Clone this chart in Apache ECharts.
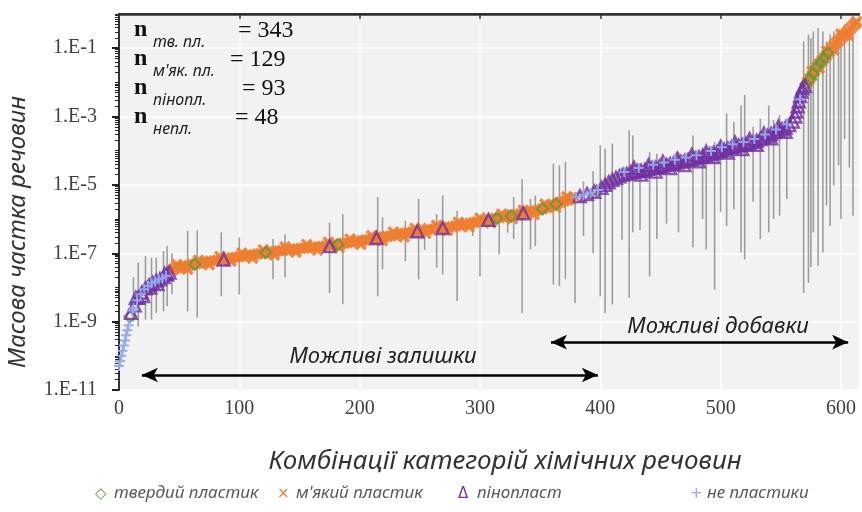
<!DOCTYPE html>
<html>
<head>
<meta charset="utf-8">
<script src="https://cdn.jsdelivr.net/npm/echarts@6/dist/echarts.min.js"></script>
<style>
html,body{margin:0;padding:0;background:#fff;}
#chart{width:862px;height:512px;}
</style>
</head>
<body>
<div id="chart"></div>
<script>
// ---------- DATA (x = combination index, value = mass fraction) ----------
const xTicks = [0, 100, 200, 300, 400, 500, 600];
const yTickExps = [-11, -9, -7, -5, -3, -1];

const hardPlastic = [
  [9,1.4e-9],[63,4.8e-8],[122,1.05e-7],[182,1.8e-7],[314,1.05e-6],[326,1.23e-6],
  [352,2.0e-6],[363,2.75e-6],[397,6.8e-6],
  [571,8.9e-3],[574,1.26e-2],[577,1.8e-2],[580,2.8e-2],[583,3.8e-2],[586,5.1e-2],[589,7.1e-2]
];

const softPlastic = [
  [44,3.2e-8],[46,3.5e-8],[49,3.8e-8],[52,4.0e-8],[55,4.2e-8],[58,4.4e-8],[61,4.7e-8],[64,4.9e-8],
  [67,5.1e-8],[70,5.4e-8],[73,5.6e-8],[76,5.9e-8],[79,6.0e-8],[82,6.3e-8],[85,6.5e-8],[88,6.8e-8],
  [91,7.1e-8],[94,7.4e-8],[97,7.6e-8],[100,7.9e-8],[103,8.3e-8],[106,8.5e-8],[109,8.9e-8],[112,9.1e-8],
  [115,9.5e-8],[118,9.8e-8],[121,1.02e-7],[124,1.05e-7],[127,1.1e-7],[130,1.12e-7],[133,1.17e-7],
  [136,1.2e-7],[139,1.26e-7],[142,1.29e-7],[145,1.32e-7],[148,1.35e-7],[151,1.38e-7],[154,1.41e-7],
  [157,1.45e-7],[160,1.48e-7],[163,1.51e-7],[166,1.55e-7],[169,1.58e-7],[172,1.62e-7],[175,1.66e-7],
  [178,1.74e-7],[181,1.82e-7],[184,1.86e-7],[187,1.95e-7],[190,2.04e-7],[193,2.1e-7],[196,2.2e-7],
  [199,2.24e-7],[202,2.34e-7],[205,2.45e-7],[208,2.5e-7],[211,2.6e-7],[214,2.75e-7],[217,2.9e-7],
  [220,3.0e-7],[223,3.1e-7],[226,3.2e-7],[229,3.4e-7],[232,3.5e-7],[235,3.7e-7],[238,3.9e-7],
  [241,4.0e-7],[244,4.2e-7],[247,4.4e-7],[250,4.5e-7],[253,4.7e-7],[256,4.9e-7],[259,5.0e-7],
  [262,5.1e-7],[265,5.4e-7],[268,5.5e-7],[271,5.6e-7],[274,5.8e-7],[277,6.0e-7],[280,6.3e-7],
  [283,6.6e-7],[286,6.9e-7],[289,7.2e-7],[292,7.6e-7],[295,7.9e-7],[298,8.3e-7],[301,8.7e-7],
  [304,9.1e-7],[307,9.5e-7],[310,1.0e-6],[313,1.05e-6],[316,1.1e-6],[319,1.15e-6],[322,1.2e-6],
  [325,1.26e-6],[328,1.32e-6],[331,1.38e-6],[334,1.41e-6],[337,1.48e-6],[340,1.6e-6],[343,1.66e-6],
  [346,1.74e-6],[349,1.86e-6],[352,2.0e-6],[355,2.2e-6],[358,2.45e-6],[361,2.6e-6],[364,2.8e-6],
  [367,3.1e-6],[370,3.4e-6],[373,3.6e-6],[376,3.9e-6],[379,4.3e-6],
  [48,4.7e-8],[57,3.4e-8],[66,6.3e-8],[75,4.6e-8],[84,8.1e-8],[93,5.8e-8],[102,1.02e-7],[111,7.2e-8],
  [120,1.26e-7],[129,8.9e-8],[138,1.55e-7],[147,1.07e-7],[156,1.82e-7],[165,1.23e-7],[174,2.1e-7],
  [183,1.48e-7],[192,2.6e-7],[201,1.82e-7],[210,3.3e-7],[219,2.34e-7],[228,4.2e-7],[237,3.0e-7],
  [246,5.4e-7],[255,3.8e-7],[264,6.6e-7],[273,4.6e-7],[282,8.1e-7],[291,5.9e-7],[300,1.07e-6],
  [309,7.8e-7],[318,1.41e-6],[327,1.02e-6],[336,1.82e-6],[345,1.35e-6],[354,2.75e-6],[363,2.2e-6],
  [372,4.5e-6],
  [572,1.0e-2],[574,1.26e-2],[576,1.58e-2],[578,2.1e-2],[580,2.8e-2],[582,3.5e-2],[584,4.2e-2],
  [586,5.1e-2],[588,6.3e-2],[590,7.9e-2],[592,0.1],[594,0.117],[596,0.141],[598,0.166],[600,0.2],
  [602,0.23],[604,0.27],[606,0.32],[608,0.38],[610,0.45],[612,0.52],[613,0.6],
  [576,2.1e-2],[582,2.6e-2],[588,8.3e-2],[594,8.9e-2],[600,0.26],[606,0.24]
];

const foam = [
  [10,1.8e-9],[13,3.0e-9],[16,5.0e-9],[19,7.1e-9],[22,9.5e-9],[25,1.17e-8],[28,1.38e-8],[31,1.58e-8],
  [34,1.74e-8],[37,2.0e-8],[40,2.4e-8],[42,2.75e-8],
  [14,5.0e-9],[20,5.6e-9],[26,1.0e-8],[32,1.26e-8],[38,2.5e-8],
  [87,6.6e-8],[175,1.62e-7],[214,2.8e-7],[248,4.4e-7],[269,5.5e-7],[307,9.5e-7],[336,1.48e-6],
  [383,4.7e-6],[389,5.4e-6],[395,6.3e-6],[401,8.3e-6],[404,1.0e-5],[407,1.2e-5],[410,1.4e-5],
  [413,1.6e-5],[416,1.8e-5],[419,2.0e-5],[422,2.1e-5],[425,2.3e-5],[428,2.4e-5],[431,2.5e-5],
  [434,2.6e-5],[437,2.75e-5],[440,2.9e-5],[443,3.1e-5],[446,3.2e-5],[449,3.4e-5],[452,3.6e-5],
  [455,3.8e-5],[458,4.1e-5],[461,4.3e-5],[464,4.5e-5],[467,4.8e-5],[470,5.0e-5],[473,5.4e-5],
  [476,5.8e-5],[479,6.0e-5],[482,6.5e-5],[485,6.8e-5],[488,7.2e-5],[491,7.8e-5],[494,8.5e-5],
  [497,9.1e-5],[500,1.0e-4],[503,1.07e-4],[506,1.17e-4],[509,1.26e-4],[512,1.32e-4],[515,1.41e-4],
  [518,1.48e-4],[521,1.58e-4],[524,1.66e-4],[527,1.78e-4],[530,1.95e-4],[533,2.2e-4],[536,2.45e-4],
  [539,2.75e-4],[542,3.1e-4],[545,3.5e-4],[548,3.9e-4],[551,4.3e-4],[554,4.8e-4],[557,5.6e-4],
  [560,7.1e-4],[562,1.0e-3],[563,1.4e-3],[564,2.0e-3],[565,2.8e-3],[566,4.0e-3],[567,5.4e-3],
  [568,6.8e-3],[570,7.9e-3],
  [428,3.2e-5],[434,2.0e-5],[440,3.8e-5],[446,2.45e-5],[452,4.8e-5],[458,3.1e-5],[464,5.9e-5],
  [470,3.8e-5],[476,7.6e-5],[482,4.9e-5],[488,9.5e-5],[494,6.5e-5],[500,1.32e-4],[506,8.9e-5],
  [512,1.74e-4],[518,1.12e-4],[524,2.2e-4],[530,1.48e-4],[536,3.2e-4],[542,2.3e-4],[548,5.1e-4],
  [554,3.6e-4]
];

const nonPlastic = [
  [0,5.0e-11],[1,7.1e-11],[2,1.0e-10],[3,1.4e-10],[4,2.0e-10],[5,2.8e-10],[6,4.0e-10],[7,5.6e-10],
  [8,7.9e-10],[11,2.1e-9],[12,2.5e-9],[15,4.2e-9],[18,6.3e-9],[21,8.9e-9],[24,1.1e-8],[27,1.32e-8],
  [30,1.5e-8],[33,1.7e-8],[36,1.86e-8],[39,2.2e-8],
  [380,4.4e-6],[386,5.0e-6],[392,5.9e-6],[398,7.1e-6],[420,2.4e-5],[432,3.1e-5],[444,3.9e-5],
  [453,4.5e-5],[462,5.4e-5],[471,6.3e-5],[480,7.4e-5],[492,9.8e-5],[501,1.26e-4],[510,1.55e-4],
  [519,1.8e-4],[528,2.2e-4],[537,3.0e-4],[546,4.2e-4],[555,6.0e-4],[566,3.2e-3]
];

// vertical ranges: [x, low, high]
const ranges = [
  [12,1.0e-9,2.0e-8],[16,7.2e-10,5.4e-8],[22,1.15e-9,8.3e-8],[27,1.15e-9,7.4e-8],[31,1.8e-9,7.4e-8],
  [37,2.0e-9,1.17e-7],[40,2.8e-9,1.62e-7],[44,6.3e-9,1.0e-7],[57,2.0e-9,4.6e-7],[65,1.3e-9,4.6e-7],
  [85,5.5e-9,4.1e-7],[100,6.2e-9,2.9e-7],[128,1.74e-8,2.6e-7],[138,1.95e-8,3.6e-7],
  [175,6.9e-9,7.9e-7],[186,3.2e-9,1.4e-6],[215,5.5e-9,4.4e-6],[219,3.4e-8,1.12e-6],[238,5.9e-8,8.9e-7],
  [249,1.74e-8,3.9e-6],[254,1.26e-7,7.9e-7],[264,3.8e-8,1.4e-6],[269,2.4e-8,4.9e-6],[281,4.0e-9,1.74e-6],
  [294,3.2e-7,1.12e-6],[300,2.1e-8,1.26e-6],[316,9.3e-8,7.9e-7],[323,4.0e-7,2.0e-6],[328,2.6e-7,4.4e-6],
  [335,1.8e-9,1.5e-5],[342,1.3e-7,3.9e-6],[346,1.62e-7,4.9e-6],[361,1.23e-8,4.2e-5],[366,1.1e-8,3.7e-5],
  [371,1.74e-8,4.7e-5],[379,3.5e-9,6.2e-6],[386,3.2e-7,1.26e-5],[394,1.0e-7,2.5e-5],[400,5.5e-9,1.45e-4],
  [404,1.8e-9,1.15e-4],[410,3.2e-9,1.6e-4],[418,2.5e-7,3.2e-5],[424,5.0e-9,4.0e-4],[427,4.1e-7,2.8e-4],
  [433,4.8e-7,4.0e-5],[441,2.1e-8,9.1e-5],[447,2.6e-7,8.1e-5],[455,7.4e-7,6.3e-5],[465,4.1e-7,9.1e-5],
  [477,1.5e-7,2.8e-4],[485,1.0e-6,1.26e-4],[488,1.3e-7,7.9e-5],[495,8.7e-9,1.8e-4],[500,1.6e-6,2.0e-4],
  [505,6.3e-7,1.23e-3],[511,1.95e-6,6.9e-4],[517,1.05e-7,2.1e-3],[520,6.6e-8,4.3e-3],[527,3.2e-6,5.0e-4],
  [533,2.6e-7,8.7e-4],[540,4.1e-7,2.1e-3],[544,1.0e-6,7.9e-4],[549,1.26e-6,1.1e-3],[555,3.9e-6,8.7e-4],
  [569,6.9e-9,0.158],[573,1.38e-8,0.25],[575,4.0e-8,0.2],[577,4.1e-7,0.31],[581,4.3e-8,0.39],
  [585,1.05e-7,0.31],[588,2.5e-6,0.158],[591,6.3e-7,0.25],[594,9.5e-6,0.31],[598,3.7e-5,0.25],
  [600,1.0e-6,0.32],[603,2.2e-4,0.49],[607,3.2e-5,0.4],[610,1.26e-6,0.6]
];

const counts = [
  {sub: 'тв. пл.', n: '= 343'},
  {sub: 'м\'як. пл.', n: '= 129'},
  {sub: 'пінопл.', n: '= 93'},
  {sub: 'непл.', n: '= 48'}
];
const legendNames = ['твердий пластик', 'м\'який пластик', 'пінопласт', 'не пластики'];
const zoneNames = ['Можливі залишки', 'Можливі добавки'];
const xTitle = 'Комбінації категорій хімічних речовин';
const yTitle = 'Масова частка речовин';

// ---------- helpers ----------
const lg = v => Math.log10(v);
const toLog = arr => arr.map(d => [d[0], lg(d[1])]);
const minorTicks = [];
for (let d = -11; d < 0; d++) {
  for (let k = 2; k <= 9; k++) minorTicks.push(lg(k) + d);
  if ((d + 1) % 2 === 0) minorTicks.push(d + 1);
}

const C = {orange:'#ED7D31', green:'#5E9A3A', purple:'#7030A0', blue:'#93A9EE'};
const xPath = 'path://M2,0 L5,3 L8,0 L10,2 L7,5 L10,8 L8,10 L5,7 L2,10 L0,8 L3,5 L0,2 Z';
const plusPath = 'path://M4,0 H6 V4 H10 V6 H6 V10 H4 V6 H0 V4 H4 Z';

const chart = echarts.init(document.getElementById('chart'), null, {renderer:'canvas'});

const serif = 'Liberation Serif';
const sans = 'Noto Sans';

const graphics = [];
const rowY = [33, 62, 91, 120];
const nX = [238, 230, 242, 235];
counts.forEach((c, i) => {
  graphics.push({type:'text', z:100, left:134, top:rowY[i]-15, style:{text:'n', font:'bold 24px "'+serif+'"', fill:'#111'}});
  graphics.push({type:'text', z:100, left:153, top:rowY[i]+1, style:{text:c.sub, font:'italic 16px "'+sans+'"', fill:'#222'}});
  graphics.push({type:'text', z:100, left:nX[i], top:rowY[i]-14, style:{text:c.n, font:'24px "'+serif+'"', fill:'#111'}});
});
graphics.push({type:'text', z:100, x:383, y:357, style:{text:zoneNames[0], font:'italic 22px "'+sans+'"', fill:'#222', textAlign:'center', textVerticalAlign:'middle'}});
graphics.push({type:'text', z:100, x:718, y:327, style:{text:zoneNames[1], font:'italic 22px "'+sans+'"', fill:'#222', textAlign:'center', textVerticalAlign:'middle'}});
graphics.push({type:'text', z:100, x:505, y:462, style:{text:xTitle, font:'italic 26px "'+sans+'"', fill:'#333', textAlign:'center', textVerticalAlign:'middle'}});
graphics.push({type:'text', z:100, x:18, y:232, rotation:Math.PI/2, style:{text:yTitle, font:'italic 24px "'+sans+'"', fill:'#333', textAlign:'center', textVerticalAlign:'middle'}});

const legSym = ['◇', '×', 'Δ', '+'];
const legCol = [C.green, C.orange, C.purple, C.blue];
const legSymX = [95, 277, 458, 690];
const legTxtX = [114, 296, 477, 707];
legendNames.forEach((nm, i) => {
  graphics.push({type:'text', z:100, left:legSymX[i], top:487, style:{text:legSym[i], font:'15px "DejaVu Sans"', fill:legCol[i]}});
  graphics.push({type:'text', z:100, left:legTxtX[i], top:485, style:{text:nm, font:'italic 17px "'+sans+'"', fill:'#595959'}});
});

const option = {
  animation: false,
  grid: {left:119, right:3, top:14, bottom:122, show:true, backgroundColor:'#F2F2F2', borderWidth:0},
  xAxis: [{
    type:'value', min:0, max:615,
    axisLine:{show:true, lineStyle:{color:'#333', width:2}},
    axisTick:{show:true, customValues:xTicks, length:5, lineStyle:{color:'#333', width:1.5}},
    axisLabel:{customValues:xTicks, margin:9, fontFamily:serif, fontSize:20, color:'#404040'},
    splitLine:{show:true, lineStyle:{color:'#FFFFFF', width:1.5}}
  },{
    type:'value', min:0, max:615, position:'top',
    axisLine:{show:true, lineStyle:{color:'#333', width:2.5}},
    axisTick:{show:false}, axisLabel:{show:false}, splitLine:{show:false}
  }],
  yAxis: [{
    type:'value', min:-11, max:0,
    axisLine:{show:true, lineStyle:{color:'#333', width:2}},
    axisTick:{show:true, customValues:yTickExps, length:7, lineStyle:{color:'#222', width:2}},
    axisLabel:{customValues:yTickExps, margin:22, fontFamily:serif, fontSize:20, color:'#404040',
      formatter: v => '1.E' + Math.round(v)},
    splitLine:{show:true, lineStyle:{color:'#FFFFFF', width:1.5}}
  },{
    type:'value', min:-11, max:0, position:'left',
    axisLine:{show:false},
    axisTick:{show:true, customValues:minorTicks, length:4, lineStyle:{color:'#222', width:1}},
    axisLabel:{show:false}, splitLine:{show:false}
  }],
  series: [
    {
      type:'custom', name:'range', z:1, silent:true,
      data: ranges.map(r => [r[0], lg(r[1]), lg(r[2])]),
      encode:{x:0, y:[1,2]},
      renderItem: (params, api) => {
        const a = api.coord([api.value(0), api.value(1)]);
        const b = api.coord([api.value(0), api.value(2)]);
        return {type:'line', shape:{x1:a[0], y1:a[1], x2:b[0], y2:b[1]},
          style:{stroke:'rgba(130,130,130,0.75)', lineWidth:1.6}};
      }
    },
    {type:'scatter', name:legendNames[1], z:2, symbol:xPath, symbolSize:12,
      itemStyle:{color:C.orange, opacity:0.9}, data:toLog(softPlastic)},
    {type:'scatter', name:legendNames[0], z:3, symbol:'diamond', symbolSize:11,
      itemStyle:{color:'rgba(0,0,0,0)', borderColor:C.green, borderWidth:2.2}, data:toLog(hardPlastic)},
    {type:'scatter', name:legendNames[2], z:4, symbol:'triangle', symbolSize:12,
      itemStyle:{color:'rgba(0,0,0,0)', borderColor:C.purple, borderWidth:2.4}, data:toLog(foam)},
    {type:'scatter', name:legendNames[3], z:5, symbol:plusPath, symbolSize:10,
      itemStyle:{color:C.blue, opacity:0.95}, data:toLog(nonPlastic)},
    {type:'line', name:'arrows', data:[], silent:true,
      markLine:{silent:true, symbol:['arrow','arrow'], symbolSize:[11,16], animation:false,
        label:{show:false},
        lineStyle:{color:'#000', width:2.5, type:'solid'},
        emphasis:{disabled:true},
        data:[
          [{coord:[19,-10.56]},{coord:[398,-10.56]}],
          [{coord:[359,-9.6]},{coord:[606,-9.6]}]
        ]}}
  ],
  graphic: graphics
};
chart.setOption(option);
</script>
</body>
</html>
